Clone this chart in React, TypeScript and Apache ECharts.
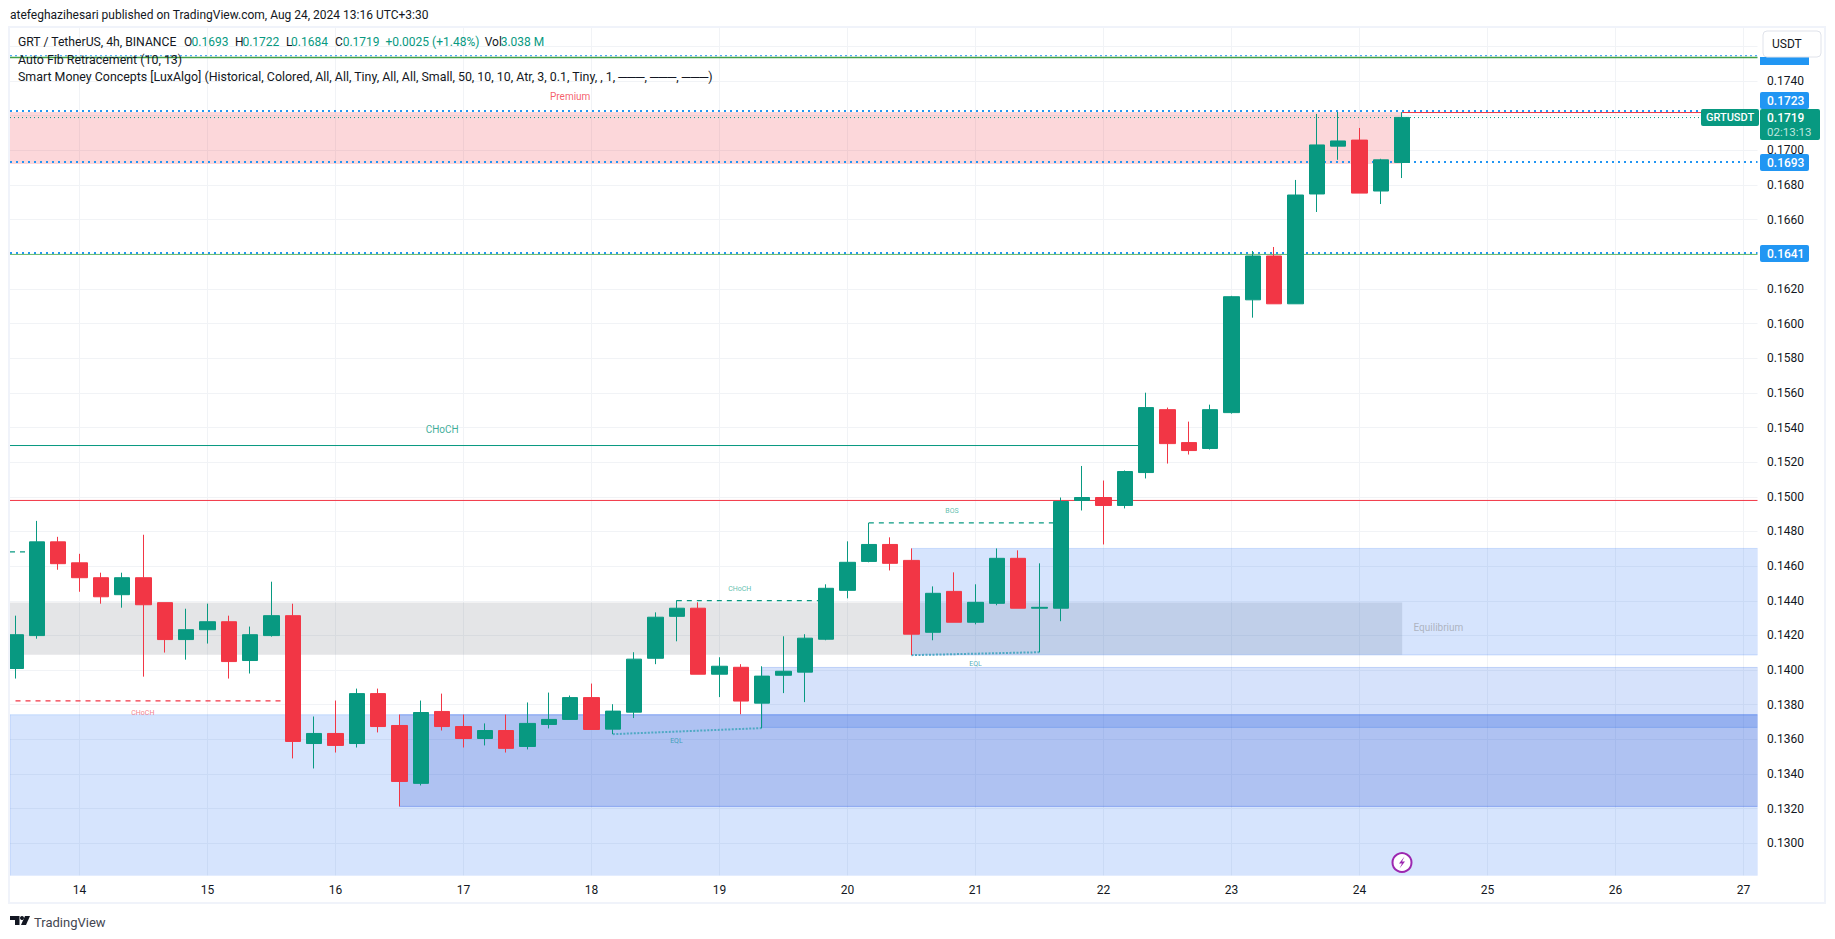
import React, { useEffect, useRef } from "react";
import * as echarts from "echarts";

const GREEN = "#089981";
const RED = "#f23645";
const BLUE = "#2196f3";
const TEXT = "#131722";
const GRID = "#f1f3f6";
const FONT = "Roboto, sans-serif";

const X_MIN = -3.258;
const X_MAX = 78.68;
const Y_MIN = 0.128113;
const Y_MAX = 0.17706;

const firstBar = -3;
const opens = [0.14009,0.14199,0.1474,0.14619,0.14533,0.14435,0.14533,0.14389,0.14176,0.14233,0.14279,0.14055,0.14199,0.14314,0.13576,0.13634,0.13576,0.13864,0.1368,0.13346,0.13761,0.13674,0.13605,0.13651,0.13559,0.13686,0.13715,0.13841,0.13659,0.13757,0.14068,0.1431,0.14357,0.13976,0.14016,0.13809,0.1397,0.13988,0.14178,0.1446,0.14627,0.14725,0.14633,0.14218,0.14454,0.14276,0.14385,0.14645,0.14357,0.14357,0.14979,0.14996,0.1495,0.1514,0.15503,0.15313,0.15279,0.15486,0.16137,0.1639,0.16114,0.16748,0.17024,0.17059,0.16765,0.1693];
const highs = [0.14314,0.14861,0.14769,0.14671,0.14562,0.14562,0.14781,0.14389,0.14354,0.14383,0.14314,0.14251,0.1451,0.14383,0.13732,0.13824,0.13893,0.13893,0.13743,0.13824,0.13864,0.13743,0.13692,0.13743,0.13813,0.1387,0.13853,0.13922,0.13803,0.14103,0.14333,0.14403,0.14391,0.14074,0.14034,0.14022,0.14195,0.14207,0.14495,0.14743,0.1485,0.14766,0.14702,0.14483,0.14564,0.14495,0.14702,0.14691,0.14616,0.14996,0.15178,0.15094,0.15152,0.15601,0.15515,0.15434,0.15532,0.1616,0.16419,0.16442,0.16829,0.1721,0.17221,0.17129,0.16951,0.1722];
const lows = [0.13951,0.14181,0.14579,0.14452,0.14383,0.1436,0.13962,0.14101,0.1406,0.14153,0.13951,0.1398,0.14193,0.1349,0.13432,0.13524,0.13553,0.1364,0.13213,0.13334,0.13651,0.13553,0.13565,0.13524,0.13542,0.13663,0.13715,0.13657,0.1363,0.13723,0.14034,0.14166,0.13976,0.13844,0.13745,0.13665,0.13867,0.13815,0.14172,0.14414,0.14622,0.14575,0.14086,0.14172,0.14276,0.14264,0.14374,0.14357,0.14103,0.14282,0.14921,0.14725,0.14933,0.15106,0.15192,0.15244,0.15273,0.1548,0.16034,0.16114,0.16114,0.16644,0.16945,0.16753,0.1669,0.1684];
const closes = [0.14204,0.1474,0.14614,0.14533,0.14423,0.14533,0.14377,0.14176,0.14233,0.14279,0.14049,0.14204,0.14314,0.13588,0.13634,0.13565,0.13864,0.13674,0.13357,0.13755,0.13674,0.13605,0.13651,0.13548,0.13692,0.13715,0.13841,0.13657,0.13763,0.14063,0.14305,0.14357,0.13976,0.14022,0.13821,0.13965,0.13993,0.14184,0.14472,0.14622,0.14725,0.14616,0.14207,0.14443,0.14276,0.14391,0.14645,0.14357,0.14362,0.14973,0.14996,0.1495,0.15146,0.15515,0.15307,0.15267,0.15503,0.16155,0.1639,0.16114,0.16742,0.17031,0.17054,0.16753,0.16945,0.1719];

const dayLabels = ["14","15","16","17","18","19","20","21","22","23","24","25","26","27"];
const dayTicks = [0,6,12,18,24,30,36,42,48,54,60,66,72,78];
const priceGrid = [0.13,0.132,0.134,0.136,0.138,0.14,0.142,0.144,0.146,0.148,0.15,0.152,0.154,0.156,0.158,0.16,0.162,0.164,0.166,0.168,0.17,0.172,0.174,0.176];
const priceLabels = [0.13,0.132,0.134,0.136,0.138,0.14,0.142,0.144,0.146,0.148,0.15,0.152,0.154,0.156,0.158,0.16,0.162,0.166,0.168,0.17,0.174];

// [x1, top, x2, bottom, fill, border]
const zones: [number, number, number, number, string, string][] = [
  [X_MIN, 0.17221, 62, 0.16921, "rgba(242,54,69,0.2)", "rgba(242,54,69,0)"],
  [X_MIN, 0.1439, 62, 0.14089, "rgba(120,123,134,0.2)", "rgba(120,123,134,0)"],
  [X_MIN, 0.13742, X_MAX, Y_MIN, "rgba(50,120,245,0.2)", "rgba(50,120,245,0.2)"],
  [15, 0.13742, X_MAX, 0.13213, "rgba(20,60,200,0.2)", "rgba(40,90,230,0.35)"],
  [32, 0.14015, X_MAX, 0.13669, "rgba(50,110,235,0.2)", "rgba(50,110,235,0.25)"],
  [39, 0.14702, X_MAX, 0.14087, "rgba(50,120,245,0.2)", "rgba(50,120,245,0.2)"],
];

// [x1, x2, price, color, width, dash]
const levels: [number, number, number, string, number, any][] = [
  [X_MIN, X_MAX, 0.17546, BLUE, 1, [2, 3]],
  [X_MIN, X_MAX, 0.17536, "#43a047", 1.5, "solid"],
  [X_MIN, X_MAX, 0.17227, BLUE, 2, [2, 4]],
  [X_MIN, X_MAX, 0.17189, GREEN, 1, [1, 3]],
  [62, X_MAX, 0.17218, RED, 1, "solid"],
  [X_MIN, X_MAX, 0.16933, BLUE, 2, [2, 4]],
  [X_MIN, X_MAX, 0.16407, BLUE, 2, [2, 4]],
  [X_MIN, X_MAX, 0.16399, "#66bb6a", 1, "solid"],
  [X_MIN, X_MAX, 0.14979, RED, 1, "solid"],
  [X_MIN, 50, 0.15296, GREEN, 1, "solid"],
  [37, 46, 0.1485, GREEN, 1.2, [5, 5]],
  [28, 35, 0.14401, GREEN, 1.2, [5, 5]],
  [-3, 10, 0.13822, RED, 1.2, [5, 5]],
  [X_MIN, -2, 0.14682, GREEN, 1.2, [5, 5]],
];

// [x1, price1, x2, price2]
const eqLines: [number, number, number, number][] = [
  [25, 0.1363, 32, 0.13665],
  [39, 0.14086, 45, 0.14103],
];

// [x, price, text, color, size]
const notes: [number, number, string, string, number][] = [
  [23, 0.17313, "Premium", "#f23645", 10],
  [17, 0.15388, "CHoCH", "#089981", 10],
  [40.9, 0.14916, "BOS", "#35ad98", 7],
  [30.95, 0.1447, "CHoCH", "#35ad98", 7],
  [2.97, 0.13754, "CHoCH", "#f4606c", 7],
  [27.98, 0.13592, "EQL", "#1f97a8", 7],
  [42, 0.14037, "EQL", "#1f97a8", 7],
  [63.7, 0.14243, "Equilibrium", "#a3a6af", 10],
];

const txt = (x: number, y: number, text: string, fill: string, size = 12, weight: any = "normal", align: any = "left") => ({
  type: "text",
  x,
  y,
  style: { text, fill, fontSize: size, fontWeight: weight, fontFamily: FONT, align, verticalAlign: "middle" },
});

const box = (x: number, y: number, w: number, h: number, fill: string, r = 2) => ({
  type: "rect",
  shape: { x, y, width: w, height: h, r },
  style: { fill },
});

function buildOption() {
  const series: any[] = [];
  series.push({
    type: "line",
    data: [],
    z: 1,
    silent: true,
    markArea: {
      silent: true,
      data: zones.map(([x1, top, x2, bottom, fill, border]) => [
        { xAxis: x1, yAxis: top, itemStyle: { color: fill, borderColor: border, borderWidth: 1 } },
        { xAxis: x2, yAxis: bottom },
      ]),
    },
  });
  levels.forEach(([x1, x2, p, color, width, dash]) =>
    series.push({
      type: "line",
      z: 2,
      silent: true,
      showSymbol: false,
      data: [[x1, p], [x2, p]],
      lineStyle: { color, width, type: dash },
    })
  );
  eqLines.forEach(([x1, p1, x2, p2]) =>
    series.push({
      type: "line",
      z: 2,
      silent: true,
      showSymbol: false,
      data: [[x1, p1], [x2, p2]],
      lineStyle: { color: "#4fa9c4", width: 2, type: [2, 1.5] },
    })
  );
  series.push({
    type: "candlestick",
    z: 3,
    barWidth: 16,
    silent: true,
    itemStyle: { color: GREEN, color0: RED, borderColor: GREEN, borderColor0: RED, borderWidth: 1 },
    data: opens.map((o, i) => [i + firstBar, o, closes[i], lows[i], highs[i]]),
  });
  series.push({
    type: "scatter",
    z: 4,
    silent: true,
    symbolSize: 0,
    data: notes.map(([x, p, text, color, size]) => ({
      value: [x, p],
      label: { show: true, position: "inside", formatter: text, color, fontSize: size, fontFamily: FONT },
    })),
  });

  const graphic: any[] = [
    // keep the first candle and the zone edges inside the pane
    { type: "rect", shape: { x: 0, y: 28, width: 10, height: 848 }, style: { fill: "#fff" } },
    { type: "rect", shape: { x: 1757.5, y: 28, width: 3, height: 849 }, style: { fill: "#fff" } },
    { type: "rect", shape: { x: 10, y: 875.5, width: 1748, height: 2 }, style: { fill: "#fff" } },

    txt(10, 15, "atefeghazihesari published on TradingView.com, Aug 24, 2024 13:16 UTC+3:30", TEXT, 12),
    { type: "rect", shape: { x: 9, y: 27, width: 1816, height: 876 }, style: { fill: "none", stroke: "#f0f3fa", lineWidth: 2 } },
    txt(18, 42, "GRT / TetherUS, 4h, BINANCE", TEXT, 12.2),
    txt(184, 42, "O", TEXT),
    txt(191.5, 42, "0.1693", GREEN),
    txt(235, 42, "H", TEXT),
    txt(242.4, 42, "0.1722", GREEN),
    txt(286, 42, "L", TEXT),
    txt(291, 42, "0.1684", GREEN),
    txt(335, 42, "C", TEXT),
    txt(342.7, 42, "0.1719", GREEN),
    txt(385.4, 42, "+0.0025 (+1.48%)", GREEN),
    txt(484.7, 42, "Vol", TEXT),
    txt(500.7, 42, "3.038 M", GREEN),
    txt(18, 59, "Auto Fib Retracement (10, 13)", TEXT, 12.4),
    txt(18, 76, "Smart Money Concepts [LuxAlgo] (Historical, Colored, All, All, Tiny, All, All, Small, 50, 10, 10, Atr, 3, 0.1, Tiny, , 1, ───, ───, ───)", TEXT, 12.4),

    box(1760, 57, 49, 8, BLUE, 0),
    { type: "rect", shape: { x: 1763, y: 31, width: 58, height: 26, r: 4 }, style: { fill: "#fff", stroke: "#e0e3eb", lineWidth: 1 } },
    txt(1772, 44, "USDT", TEXT),

    box(1760, 92, 49, 17, BLUE),
    txt(1767, 100.5, "0.1723", "#fff", 12, 500),
    box(1760, 109, 60, 31, GREEN),
    txt(1767, 117.5, "0.1719", "#fff", 12, 500),
    txt(1767, 131.5, "02:13:13", "#bfe6de", 11.5),
    box(1701, 109, 58, 17, GREEN),
    txt(1730, 117.5, "GRTUSDT", "#fff", 11, 500, "center"),
    box(1760, 154, 49, 17, BLUE),
    txt(1767, 162.5, "0.1693", "#fff", 12, 500),
    box(1760, 245, 49, 17, BLUE),
    txt(1767, 253.5, "0.1641", "#fff", 12, 500),

    { type: "circle", shape: { cx: 1402, cy: 862.5, r: 9.5 }, style: { fill: "#fff", stroke: "#9c27b0", lineWidth: 2 } },
    { type: "polygon", shape: { points: [[1404.5, 856.5], [1399, 863.5], [1402, 863.5], [1399.5, 868.5], [1405, 861.5], [1402, 861.5]] }, style: { fill: "#9c27b0" } },

    { type: "polygon", shape: { points: [[10, 916], [19.5, 916], [19.5, 925], [15, 925], [15, 920], [10, 920]] }, style: { fill: TEXT } },
    { type: "circle", shape: { cx: 22, cy: 918, r: 2 }, style: { fill: TEXT } },
    { type: "polygon", shape: { points: [[25, 916], [30, 916], [26, 925], [21, 925]] }, style: { fill: TEXT } },
    txt(34, 922, "TradingView", "#434651", 13),
  ];

  return {
    animation: false,
    backgroundColor: "#ffffff",
    grid: { left: 10, right: 77, top: 28, bottom: 63, containLabel: false },
    xAxis: {
      type: "value",
      min: X_MIN,
      max: X_MAX,
      axisLine: { show: false },
      axisTick: { show: false, customValues: dayTicks },
      axisLabel: {
        customValues: dayTicks,
        formatter: (v: number) => dayLabels[dayTicks.indexOf(Math.round(v))] ?? "",
        color: TEXT,
        fontSize: 12,
        fontFamily: FONT,
        margin: 8,
        showMinLabel: true,
        showMaxLabel: true,
      },
      splitLine: { show: true, lineStyle: { color: GRID, width: 1 } },
    },
    yAxis: {
      type: "value",
      position: "right",
      min: Y_MIN,
      max: Y_MAX,
      axisLine: { show: false },
      axisTick: { show: false, customValues: priceGrid },
      axisLabel: {
        customValues: priceLabels,
        formatter: (v: number) => v.toFixed(4),
        color: TEXT,
        fontSize: 12,
        fontFamily: FONT,
        margin: 9,
        showMinLabel: true,
        showMaxLabel: true,
      },
      splitLine: { show: true, lineStyle: { color: GRID, width: 1 } },
    },
    series,
    graphic: { z: 100, elements: graphic.map((e) => ({ ...e, z: 100 })) },
  };
}

export default function App() {
  const ref = useRef<HTMLDivElement>(null);
  useEffect(() => {
    document.body.style.margin = "0";
    const chart = echarts.init(ref.current!, undefined, { renderer: "svg" });
    chart.setOption(buildOption() as any);
    return () => chart.dispose();
  }, []);
  return <div ref={ref} style={{ width: 1835, height: 939, overflow: "hidden" }} />;
}
